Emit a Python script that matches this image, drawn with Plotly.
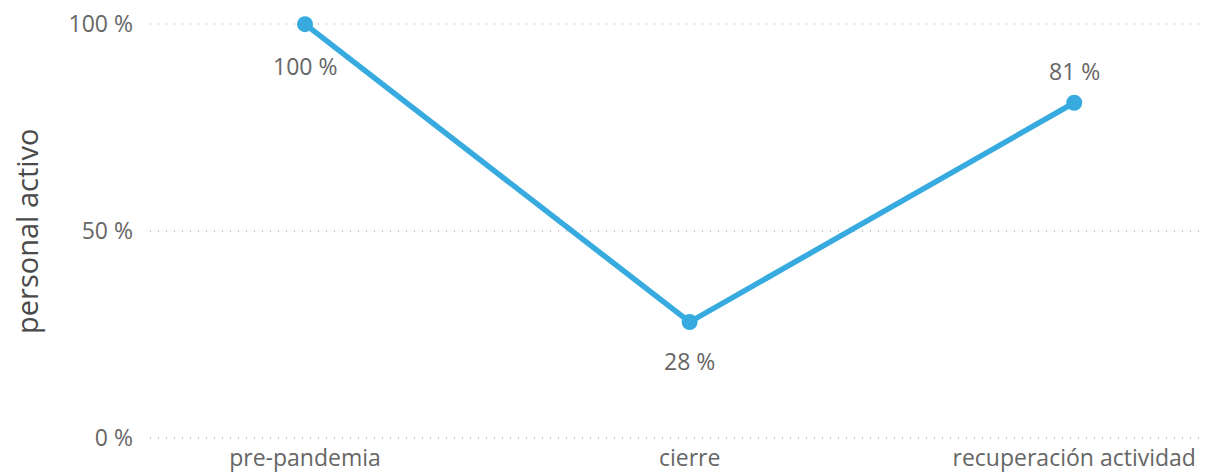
import plotly.graph_objects as go

categories = ["pre-pandemia", "cierre", "recuperación actividad"]
values = [100, 28, 81]
labels = ["100 %", "28 %", "81 %"]
y_ticks = [0, 50, 100]
y_tick_text = ["0 %", "50 %", "100 %"]

# vertical offset (px) of each data label from its point
label_shift = [-42, -39, 32]

LINE_COLOR = "#37ABE0"
TEXT_COLOR = "#666666"
FONT = "Open Sans"

x_idx = list(range(len(categories)))

fig = go.Figure()
fig.add_trace(
    go.Scatter(
        x=x_idx,
        y=values,
        mode="lines+markers",
        line=dict(color=LINE_COLOR, width=5.5),
        marker=dict(color=LINE_COLOR, size=16),
        cliponaxis=False,
        showlegend=False,
    )
)

annotations = [
    dict(
        x=xi, y=v, xref="x", yref="y", text=t, showarrow=False,
        xanchor="center", yanchor="middle", yshift=s,
        font=dict(family=FONT, size=23, color=TEXT_COLOR),
    )
    for xi, v, t, s in zip(x_idx, values, labels, label_shift)
]
annotations.append(
    dict(
        text="personal activo",
        xref="paper",
        yref="paper",
        x=0,
        y=0.5,
        xshift=-124,
        xanchor="center",
        yanchor="middle",
        textangle=-90,
        showarrow=False,
        font=dict(family=FONT, size=29, color="#4a4a4a"),
    )
)

# page body has an 8px margin, so the figure is drawn 8px smaller
fig.update_layout(
    width=1211,
    height=467,
    margin=dict(l=142, r=14, t=12, b=33, autoexpand=False),
    paper_bgcolor="white",
    plot_bgcolor="white",
    font=dict(family=FONT, color=TEXT_COLOR),
    xaxis=dict(
        range=[-0.403, 2.34],
        tickvals=x_idx,
        ticktext=categories,
        tickfont=dict(size=23, color=TEXT_COLOR),
        showgrid=False,
        zeroline=False,
        showline=False,
        ticks="",
        automargin=False,
        ticklabelstandoff=0,
        ticklabeloverflow="allow",
    ),
    yaxis=dict(
        range=[-1, 101],
        tickvals=y_ticks,
        ticktext=y_tick_text,
        tickfont=dict(size=23, color=TEXT_COLOR),
        showgrid=True,
        gridcolor="#C4C4C4",
        griddash="1px,7px",
        gridwidth=1.5,
        zeroline=False,
        showline=False,
        ticks="",
        automargin=False,
        ticklabelstandoff=16,
        ticklabeloverflow="allow",
    ),
    annotations=annotations,
)

fig.write_html("out.html")
